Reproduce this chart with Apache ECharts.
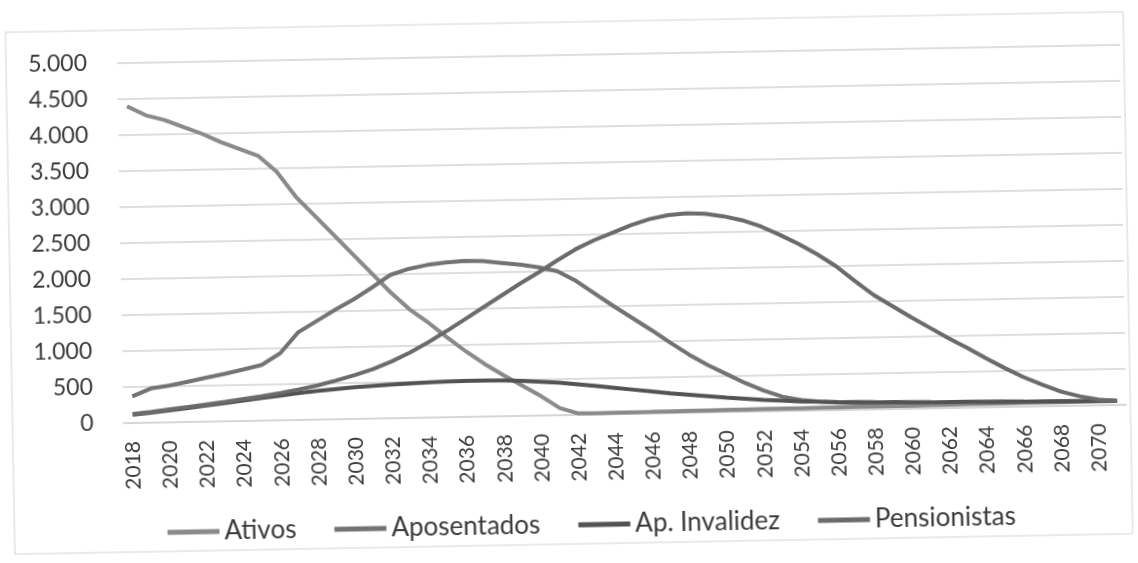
<!DOCTYPE html>
<html>
<head>
<meta charset="utf-8">
<script src="https://cdn.jsdelivr.net/npm/echarts@6/dist/echarts.min.js"></script>
<style>
  html, body { margin: 0; padding: 0; background: #ffffff; overflow: hidden; }
  #chart { width: 1138px; height: 563px; transform: rotate(-1.05deg); transform-origin: 50% 50%; }
</style>
</head>
<body>
<div id="chart"></div>
<script>
// Years on the category axis (2018–2071)
const years = ['2018','2019','2020','2021','2022','2023','2024','2025','2026','2027',
  '2028','2029','2030','2031','2032','2033','2034','2035','2036','2037',
  '2038','2039','2040','2041','2042','2043','2044','2045','2046','2047',
  '2048','2049','2050','2051','2052','2053','2054','2055','2056','2057',
  '2058','2059','2060','2061','2062','2063','2064','2065','2066','2067',
  '2068','2069','2070','2071'];

const ativos = [4400,4270,4200,4100,4000,3880,3780,3680,3450,3100,
  2830,2560,2290,2020,1750,1510,1320,1110,910,730,
  570,420,270,100,20,18,20,22,23,25,
  27,28,30,31,33,34,36,37,38,40,
  41,42,43,45,46,47,48,50,51,52,
  53,54,55,56];

const aposentados = [370,475,510,560,610,660,715,775,930,1220,
  1370,1520,1660,1820,1990,2070,2120,2150,2165,2160,
  2130,2100,2060,2000,1860,1680,1500,1330,1160,980,
  810,660,530,400,290,200,150,120,105,98,
  93,89,86,83,80,77,75,72,70,68,
  66,64,62,60];

const apInvalidez = [115,140,165,195,225,255,285,315,345,375,
  400,420,440,455,470,480,490,495,500,500,
  495,485,470,450,425,395,365,335,305,275,
  250,225,200,180,160,145,130,120,112,106,
  100,96,92,88,85,82,78,75,72,70,
  67,64,62,60];

const pensionistas = [125,150,180,210,240,270,305,340,380,425,
  475,540,610,690,790,910,1050,1200,1360,1520,
  1680,1840,1990,2150,2300,2420,2520,2620,2700,2750,
  2770,2760,2720,2660,2570,2450,2320,2170,2000,1790,
  1590,1430,1270,1120,970,830,680,540,410,300,
  200,130,80,55];

const seriesNames = ['Ativos', 'Aposentados', 'Ap. Invalidez', 'Pensionistas'];
const seriesColors = ['#8a8a8a', '#737373', '#535353', '#6b6b6b'];
const seriesData = [ativos, aposentados, apInvalidez, pensionistas];

// Brazilian-style thousands separator: 4500 -> "4.500"
function fmt(v) {
  const s = String(Math.round(v));
  return s.replace(/\B(?=(\d{3})+(?!\d))/g, '.');
}

const chart = echarts.init(document.getElementById('chart'), null, { renderer: 'canvas' });

chart.setOption({
  animation: false,
  backgroundColor: '#ffffff',
  graphic: [{
    type: 'rect',
    shape: { x: 10, y: 22, width: 1118, height: 522 },
    style: { fill: 'none', stroke: '#d4d4d4', lineWidth: 1 },
    silent: true
  }],
  grid: { left: 121, right: 14, top: 55, bottom: 148 },
  legend: {
    data: seriesNames,
    left: 158,
    top: 507,
    icon: 'rect',
    itemWidth: 52,
    itemHeight: 5,
    itemGap: 38,
    textStyle: { fontFamily: 'Lato', fontSize: 26, color: '#3a3a3a' }
  },
  xAxis: {
    type: 'category',
    data: years,
    boundaryGap: true,
    axisTick: { show: false },
    axisLine: { show: true, lineStyle: { color: '#d3d3d3', width: 1.5 } },
    axisLabel: {
      interval: 1,
      rotate: 90,
      margin: 18,
      fontFamily: 'Lato',
      fontSize: 21,
      color: '#3a3a3a'
    },
    splitLine: { show: false }
  },
  yAxis: {
    type: 'value',
    min: 0,
    max: 5000,
    interval: 500,
    axisLine: { show: false },
    axisTick: { show: false },
    axisLabel: {
      margin: 30,
      fontFamily: 'Lato',
      fontSize: 23,
      color: '#3a3a3a',
      formatter: fmt
    },
    splitLine: { lineStyle: { color: '#d3d3d3', width: 1.5 } }
  },
  series: seriesNames.map((name, i) => ({
    name: name,
    type: 'line',
    data: seriesData[i],
    symbol: 'none',
    smooth: false,
    lineStyle: { width: 4, color: seriesColors[i] },
    itemStyle: { color: seriesColors[i] }
  }))
});
</script>
</body>
</html>
